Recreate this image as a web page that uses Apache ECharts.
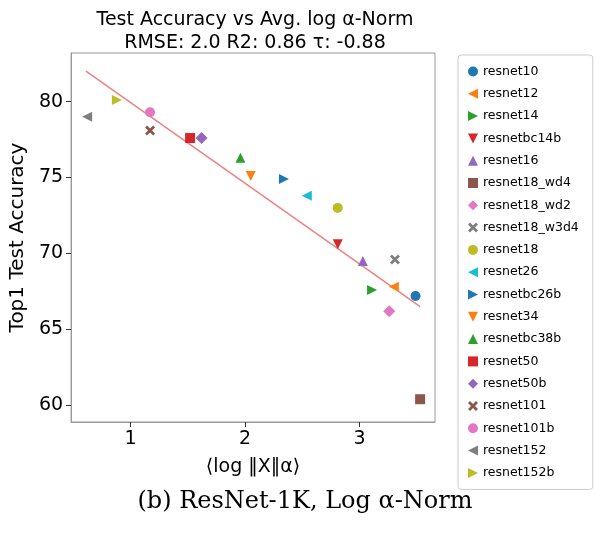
<!DOCTYPE html>
<html><head><meta charset="utf-8">
<script src="https://cdn.jsdelivr.net/npm/echarts@6/dist/echarts.min.js"></script>
<style>body{margin:0;background:#fff}#c{width:610px;height:537px}</style>
</head><body><div id="c"></div>
<script>
var names = ['resnet10','resnet12','resnet14','resnetbc14b','resnet16','resnet18_wd4','resnet18_wd2','resnet18_w3d4','resnet18','resnet26','resnetbc26b','resnet34','resnetbc38b','resnet50','resnet50b','resnet101','resnet101b','resnet152','resnet152b'];
var xVals = [3.49,3.30,3.11,2.81,3.03,3.53,3.26,3.31,2.81,2.54,2.34,2.05,1.96,1.52,1.62,1.17,1.17,0.62,0.88];
var yVals = [67.2,67.8,67.6,70.6,69.5,60.4,66.2,69.6,73.0,73.8,74.9,75.1,76.3,77.6,77.6,78.1,79.3,79.0,80.1];
var fitLine = [[0.61,82.0],[3.53,66.5]];
var xTicks = [1,2,3];
var yTicks = [60,65,70,75,80];

var colors = ['#1f77b4','#ff7f0e','#2ca02c','#d62728','#9467bd','#8c564b','#e377c2','#7f7f7f','#bcbd22','#17becf'];
var shapes = {
    circle: 'circle',
    left: 'path://M-1,0L1,-1L1,1Z',
    right: 'path://M1,0L-1,-1L-1,1Z',
    down: 'path://M-1,-1L1,-1L0,1Z',
    up: 'path://M0,-1L1,1L-1,1Z',
    square: 'rect',
    diamond: 'diamond',
    cross: 'path://M-1,-0.6L-0.6,-1L0,-0.4L0.6,-1L1,-0.6L0.4,0L1,0.6L0.6,1L0,0.4L-0.6,1L-1,0.6L-0.4,0Z'
};
var symOrder = ['circle','left','right','down','up','square','diamond','cross'];

var series = [];
var legendData = [];
for (var i = 0; i < names.length; i++) {
    var sym = shapes[symOrder[i % symOrder.length]];
    var size = (sym == 'diamond') ? 12 : 10;
    series.push({
        name: names[i], type: 'scatter', symbol: sym, symbolSize: size,
        itemStyle: {color: colors[i % colors.length], opacity: 1},
        data: [[xVals[i], yVals[i]]], z: 3
    });
    legendData.push({name: names[i], icon: sym});
}
series.push({
    type: 'line', data: fitLine, symbol: 'none', silent: true,
    lineStyle: {color: '#f08080', width: 1.5}, z: 2
});

var chart = echarts.init(document.getElementById('c'));
chart.setOption({
    animation: false,
    title: {
        text: 'Test Accuracy vs Avg. log α-Norm\nRMSE: 2.0 R2: 0.86 τ: -0.88',
        left: 250, top: 4, textAlign: 'center',
        textStyle: {fontFamily: 'DejaVu Sans', fontSize: 19, fontWeight: 'normal', color: '#000', lineHeight: 23}
    },
    grid: {left: 66, right: 175, top: 53, bottom: 115, show: true, borderColor: '#999', borderWidth: 1},
    xAxis: {
        type: 'value', min: 0.48, max: 3.66,
        splitLine: {show: false},
        axisLine: {onZero: false, lineStyle: {color: '#999'}},
        axisTick: {show: true, customValues: xTicks, lineStyle: {color: '#333'}},
        axisLabel: {customValues: xTicks, fontFamily: 'DejaVu Sans', fontSize: 19, color: '#000'},
        name: '⟨log ‖X‖α⟩', nameLocation: 'middle', nameGap: 36,
        nameTextStyle: {fontFamily: 'DejaVu Sans', fontSize: 19, color: '#000'}
    },
    yAxis: {
        type: 'value', min: 58.9, max: 83.2,
        splitLine: {show: false},
        axisLine: {show: true, lineStyle: {color: '#999'}},
        axisTick: {show: true, customValues: yTicks, lineStyle: {color: '#333'}},
        axisLabel: {customValues: yTicks, fontFamily: 'DejaVu Sans', fontSize: 19, color: '#000'},
        name: 'Top1 Test Accuracy', nameLocation: 'middle', nameGap: 38,
        nameTextStyle: {fontFamily: 'DejaVu Sans', fontSize: 20, color: '#000'}
    },
    legend: {
        orient: 'vertical', left: 458, top: 55, data: legendData,
        itemWidth: 10, itemHeight: 10, itemGap: 9.3,
        padding: [10, 14, 10, 10],
        borderColor: '#ccc', borderWidth: 1, borderRadius: 3,
        textStyle: {fontFamily: 'DejaVu Sans', fontSize: 12.5, color: '#000'}
    },
    graphic: [{
        type: 'text', left: 'center', top: 490,
        style: {text: '(b) ResNet-1K, Log α-Norm', fontFamily: 'DejaVu Serif', fontSize: 24, fill: '#000'}
    }],
    series: series
});
</script>
</body></html>
